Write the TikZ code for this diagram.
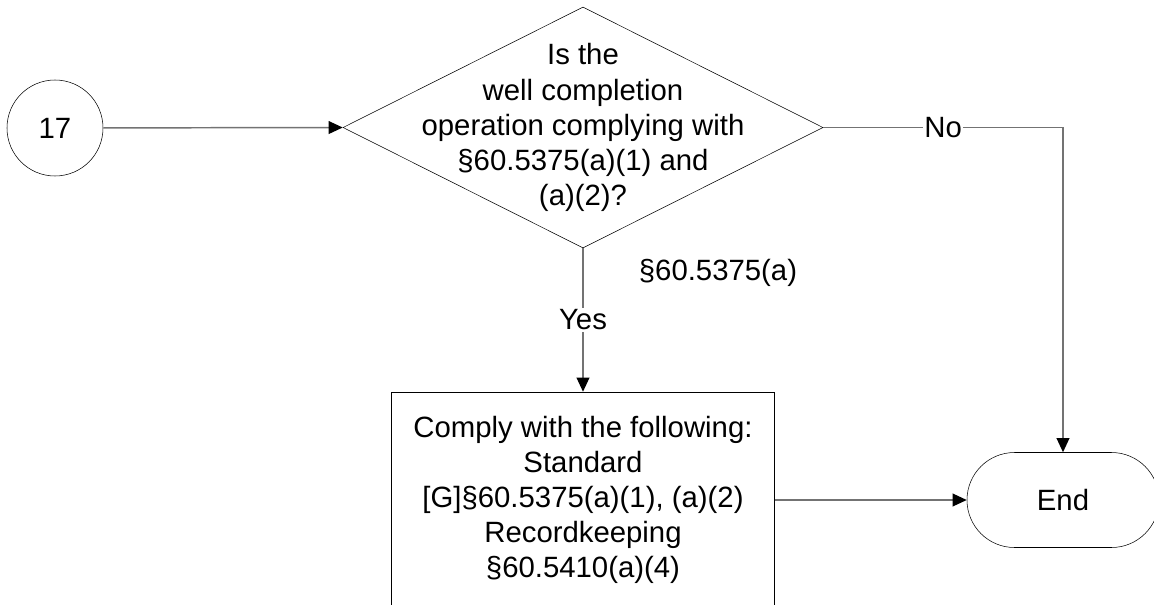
\documentclass[tikz,border=0pt]{standalone}
\usepackage{fontspec}
\setmainfont{Liberation Sans}
\usepackage{tikz}
\usetikzlibrary{arrows.meta,positioning,shapes.geometric,shapes.misc}
\tikzset{
  connector/.style={draw=black!55, line width=1.1pt, -{Triangle[length=10.5pt, width=9.5pt, color=black]}},
  onpage/.style={circle, draw, thin, minimum size=72pt, inner sep=0pt},
  decision/.style={diamond, draw, thin, minimum width=360pt, minimum height=180.75pt, inner sep=0pt},
  process/.style={rectangle, draw, thin, minimum width=287.25pt, minimum height=162pt, align=center, inner sep=0pt},
  terminal/.style={rounded rectangle, draw, thin, minimum width=144pt, minimum height=71.25pt, inner sep=0pt},
  tag/.style={fill=white, inner sep=1pt}
}

\begin{document}
\begin{tikzpicture}[x=0.75pt, y=-0.75pt, font=\fontsize{22}{26.3}\selectfont]
  \useasboundingbox (0,0) rectangle (1154,604);

  \node[onpage] (c17) at (55,128) {17};
  \node[decision] (dec) at (583,127.5) {};
  \node[align=center] (dectext) at (dec.center) {Is the\\well completion\\operation complying with\\§60.5375(a)(1) and\\(a)(2)?};
  \node (ref) at (718,273) {§60.5375(a)};
  \node[process] (comply) at (583,500) {Comply with the following:\\Standard\\{[G]}§60.5375(a)(1), (a)(2)\\Recordkeeping\\§60.5410(a)(4)};
  \node[terminal] (fin) at (1063,500) {End};

  \draw[connector] (c17) -- (dec.west);
  \draw[connector] (dec.south) -- node[tag]{Yes} (comply.north);
  \draw[connector] (dec.east) -| node[tag, pos=0.25]{No} (fin.north);
  \draw[connector] (comply.east) -- (fin.west);
\end{tikzpicture}
\end{document}
